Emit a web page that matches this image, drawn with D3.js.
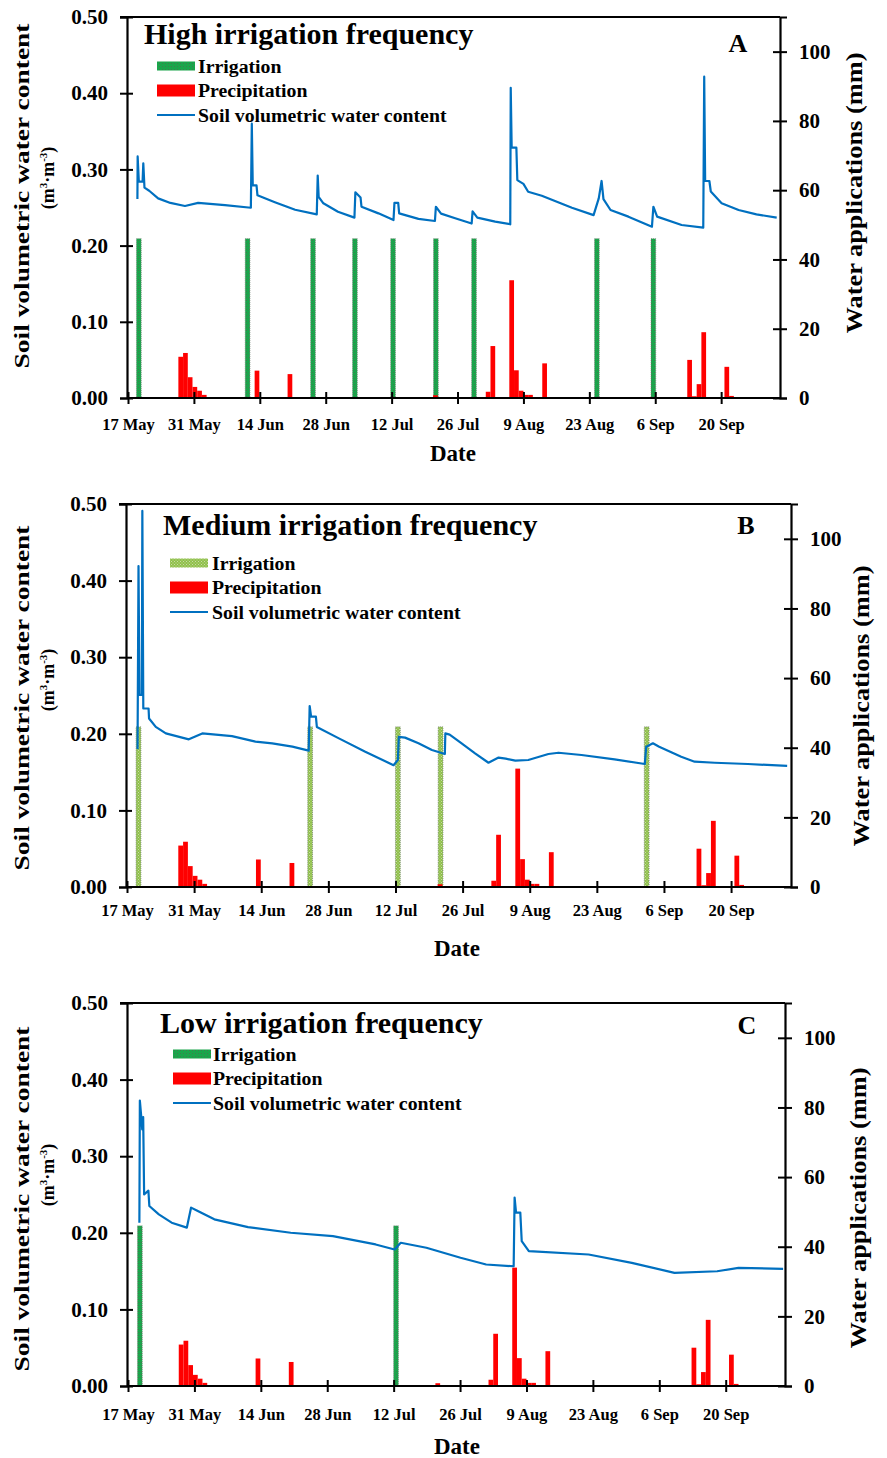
<!DOCTYPE html>
<html><head><meta charset="utf-8">
<script src="https://cdn.jsdelivr.net/npm/d3@7"></script>
<style>
body{margin:0;background:#fff;}
text{font-family:"Liberation Serif","Times New Roman",serif;font-weight:bold;fill:#000;}
</style></head>
<body><svg id="chart" width="887" height="1458"></svg>
<script>
// ---------- data (x = days since 17 May) ----------
const xTickDays = [0,14,28,42,56,70,84,98,112,126];
const xTickLabels = ["17 May","31 May","14 Jun","28 Jun","12 Jul","26 Jul","9 Aug","23 Aug","6 Sep","20 Sep"];
const leftTicks = [0,0.1,0.2,0.3,0.4,0.5];
const rightTicks = [0,20,40,60,80,100];

const precipDays = [10.7,11.7,12.7,13.7,14.7,15.7,26.9,33.9,64.8,76,77,81,82,83,84,85,88,118.8,119.8,120.8,121.8,126.7,127.7];
const precipMm   = [11.9,13,6,3.2,2.1,0.9,7.9,6.9,0.8,1.8,15,34,8,2.1,0.9,0.9,10,11,0.5,4,19,9,0.6];

const irrigationDaysA = [2.3,25.4,39.3,48.2,56.3,65.4,73.5,99.6,111.6];
const irrigationDaysB = [2.4,38.2,56.5,65.4,108.4];
const irrigationDaysC = [2.5,56.5];
const irrigationMm = 46;

const svwcA = [[2.0,0.261],[2.05,0.317],[2.3,0.284],[3.1,0.284],[3.25,0.308],[3.5,0.276],[4.5,0.272],[6.4,0.262],[9,0.256],[12.1,0.252],[14.9,0.256],[20.6,0.253],[26.1,0.2497],[26.3,0.360],[26.5,0.279],[27.3,0.279],[27.5,0.266],[31.2,0.257],[35.5,0.247],[40.1,0.241],[40.3,0.292],[40.5,0.264],[41.5,0.2555],[44.6,0.2445],[48.1,0.2367],[48.3,0.270],[49.4,0.263],[49.6,0.251],[53.2,0.2423],[56.4,0.2336],[56.6,0.256],[57.4,0.256],[57.6,0.2423],[61.7,0.235],[65.2,0.2323],[65.4,0.251],[66.5,0.242],[69.5,0.2358],[73,0.229],[73.2,0.245],[74.2,0.2367],[78,0.2314],[81.2,0.228],[81.3,0.407],[81.5,0.3285],[82.5,0.3285],[82.7,0.286],[84,0.281],[85,0.2707],[87.9,0.2655],[90.7,0.2585],[94.3,0.2497],[98.9,0.240],[100,0.262],[100.6,0.2848],[101,0.261],[102.5,0.2467],[106.3,0.238],[111.3,0.2248],[111.6,0.251],[112.4,0.238],[117.6,0.227],[122.2,0.2235],[122.4,0.4217],[122.6,0.2848],[123.5,0.2848],[123.8,0.271],[126.1,0.2555],[129.7,0.2467],[133.5,0.241],[137.8,0.2367]];

const svwcB = [[2.2,0.180],[2.4,0.419],[2.6,0.2507],[3.1,0.2507],[3.2,0.491],[3.4,0.233],[4.5,0.233],[4.6,0.220],[6,0.209],[8.1,0.2005],[12.9,0.1928],[15.7,0.2005],[21.9,0.197],[26.8,0.1897],[30.3,0.1876],[34.5,0.1832],[37.9,0.178],[38.1,0.2363],[38.4,0.2223],[39.4,0.2223],[39.6,0.209],[44.2,0.194],[49.7,0.1766],[55.6,0.159],[56.5,0.1658],[56.7,0.196],[58,0.195],[60.8,0.1876],[63.6,0.1789],[66.3,0.1736],[66.4,0.2005],[67.3,0.199],[69.8,0.1876],[72.6,0.1745],[75.4,0.1622],[77.5,0.169],[79,0.1675],[81,0.1649],[83.7,0.1658],[87.9,0.1736],[90,0.1753],[94.8,0.1723],[101.7,0.1667],[108,0.1606],[108.3,0.1832],[109.7,0.1876],[111,0.1832],[115.6,0.170],[118.4,0.1636],[122.6,0.1622],[129.5,0.1606],[137.7,0.158]];

const svwcC = [[2.4,0.2132],[2.5,0.3726],[2.8,0.351],[3.0,0.335],[3.2,0.351],[3.4,0.250],[4.3,0.255],[4.5,0.235],[6.5,0.224],[9.2,0.2132],[12.4,0.2067],[13.3,0.2329],[14.5,0.229],[18.2,0.2176],[25.3,0.2075],[34.3,0.2001],[43.2,0.1957],[52.2,0.1848],[56.2,0.1782],[57.5,0.187],[62.9,0.1805],[70.1,0.1674],[75.5,0.1586],[81.3,0.1563],[81.5,0.246],[81.8,0.2263],[82.7,0.2263],[83,0.189],[84.5,0.176],[97.1,0.1717],[106.2,0.1608],[115.2,0.1477],[124.2,0.1498],[128.7,0.1543],[138.1,0.153]];

const panelTitles = ["High irrigation frequency","Medium irrigation frequency","Low irrigation frequency"];
const panelLetters = ["A","B","C"];
const legendLabels = ["Irrigation","Precipitation","Soil volumetric water content"];

// ---------- layout ----------
const panels = [
  {svwc:svwcA, irr:irrigationDaysA, pat:"irrA", left:127, right:780, top:17, bottom:398,
   titleX:144, titleY:44, letterX:738, letterY:52, legX:157, legY:66, legTX:198,
   xlabY:430, dateY:461, ltX:29, ltY:196, lsX:54, lsY:178, rtX:862, rtY:193},
  {svwc:svwcB, irr:irrigationDaysB, pat:"irrB", left:126, right:791, top:504, bottom:887,
   titleX:163, titleY:535, letterX:746, letterY:534, legX:170, legY:563, legTX:212,
   xlabY:916, dateY:956, ltX:29, ltY:698, lsX:54, lsY:680, rtX:869, rtY:706},
  {svwc:svwcC, irr:irrigationDaysC, pat:"irrC", left:127, right:785, top:1003, bottom:1386,
   titleX:160, titleY:1033, letterX:747, letterY:1034, legX:173, legY:1054, legTX:213,
   xlabY:1420, dateY:1454, ltX:29, ltY:1199, lsX:54, lsY:1175, rtX:866, rtY:1208}
];

const svg = d3.select("#chart");
const defs = svg.append("defs");
function mkPat(id, base, dot){
  const p = defs.append("pattern").attr("id",id).attr("width",3).attr("height",3).attr("patternUnits","userSpaceOnUse");
  p.append("rect").attr("width",3).attr("height",3).attr("fill",base);
  p.append("rect").attr("x",0).attr("y",0).attr("width",1).attr("height",1).attr("fill",dot);
  p.append("rect").attr("x",1.5).attr("y",1.5).attr("width",1).attr("height",1).attr("fill",dot);
}
mkPat("irrA","#10b04a","#4d6e50");
mkPat("irrB","#8fc149","#c9d9a8");
mkPat("irrC","#10b04a","#4d6e50");

const lineColor = "#0070c0";

panels.forEach((P,i)=>{
  const g = svg.append("g");
  const x = d3.scaleLinear().domain([0,138.5]).range([P.left+1, P.right]);
  const y = d3.scaleLinear().domain([0,0.5]).range([P.bottom, P.top]);
  const y2 = d3.scaleLinear().domain([0,110]).range([P.bottom, P.top]);
  const dayW = x(1)-x(0);

  const cid = "clip"+i;
  defs.append("clipPath").attr("id",cid).append("rect")
    .attr("x",P.left).attr("y",P.top).attr("width",P.right-P.left).attr("height",P.bottom-P.top);

  const plot = g.append("g").attr("clip-path",`url(#${cid})`);

  plot.selectAll(".irr").data(P.irr).join("rect")
    .attr("x",d=>x(d)-dayW/2).attr("width",dayW)
    .attr("y",y2(irrigationMm)).attr("height",P.bottom-y2(irrigationMm))
    .attr("fill",`url(#${P.pat})`).attr("stroke","#6d7a6d").attr("stroke-width",0.7).attr("stroke-dasharray","1,1");

  plot.selectAll(".pr").data(precipDays.map((d,k)=>[d,precipMm[k]])).join("rect")
    .attr("x",d=>x(d[0])).attr("width",dayW)
    .attr("y",d=>y2(d[1])).attr("height",d=>P.bottom-y2(d[1]))
    .attr("fill","#ff0000");

  plot.append("path").datum(P.svwc)
    .attr("d",d3.line().x(d=>x(d[0])).y(d=>y(d[1])))
    .attr("fill","none").attr("stroke",lineColor).attr("stroke-width",2.2).attr("stroke-linejoin","round");

  g.append("line").attr("x1",P.left-7).attr("x2",P.right).attr("y1",P.top).attr("y2",P.top)
    .attr("stroke","#000").attr("stroke-width",2);

  const ax = g.append("g").attr("transform",`translate(0,${P.bottom})`)
    .call(d3.axisBottom(x).tickValues(xTickDays).tickFormat((d,k)=>xTickLabels[k]).tickSize(6).tickPadding(12));
  ax.select(".domain").attr("d",`M${P.left},0H${P.right}`);
  ax.selectAll(".tick line").attr("y1",-6).attr("y2",6);
  const yl = g.append("g").attr("transform",`translate(${P.left},0)`)
    .call(d3.axisLeft(y).tickValues(leftTicks).tickFormat(d3.format(".2f")).tickSize(7).tickPadding(12));
  yl.selectAll(".tick line").attr("x1",6).attr("x2",-7);
  const yr = g.append("g").attr("transform",`translate(${P.right},0)`)
    .call(d3.axisRight(y2).tickValues(rightTicks).tickSize(7).tickPadding(12));
  yr.selectAll(".tick line").attr("x1",-7).attr("x2",7);
  [ax,yl,yr].forEach(a=>{
    a.select(".domain").attr("stroke","#000").attr("stroke-width",2.2);
    a.selectAll(".tick line").attr("stroke","#000").attr("stroke-width",2);
    a.selectAll(".tick text").attr("font-family","Liberation Serif").attr("font-weight","bold").attr("fill","#000");
  });
  ax.selectAll(".tick text").attr("font-size",16.5).attr("dy",null).attr("y",null)
    .attr("transform",`translate(0,${P.xlabY-P.bottom})`);
  yl.selectAll(".tick text").attr("font-size",21);
  yr.selectAll(".tick text").attr("font-size",21);

  g.append("text").attr("x",P.titleX).attr("y",P.titleY).attr("font-size",30).text(panelTitles[i]);
  g.append("text").attr("x",P.letterX).attr("y",P.letterY).attr("font-size",26).attr("text-anchor","middle").text(panelLetters[i]);

  const lg = g.append("g");
  const rowGap = 24.5;
  lg.append("rect").attr("x",P.legX).attr("y",P.legY-4.5).attr("width",38).attr("height",9).attr("fill",`url(#${P.pat})`);
  lg.append("rect").attr("x",P.legX).attr("y",P.legY+rowGap-6).attr("width",38).attr("height",12).attr("fill","#ff0000");
  lg.append("line").attr("x1",P.legX).attr("x2",P.legX+38).attr("y1",P.legY+2*rowGap).attr("y2",P.legY+2*rowGap)
    .attr("stroke",lineColor).attr("stroke-width",2.2);
  legendLabels.forEach((t,k)=>{
    lg.append("text").attr("x",P.legTX).attr("y",P.legY+k*rowGap+6.5).attr("font-size",19.8).text(t);
  });

  g.append("text").attr("x",453+(i?4:0)).attr("y",P.dateY).attr("text-anchor","middle").attr("font-size",23).text("Date");
  g.append("text").attr("transform",`translate(${P.ltX},${P.ltY}) rotate(-90)`).attr("text-anchor","middle")
    .attr("font-size",22).attr("textLength",345).attr("lengthAdjust","spacingAndGlyphs").text("Soil volumetric water content");
  const sub = g.append("text").attr("transform",`translate(${P.lsX},${P.lsY}) rotate(-90)`).attr("text-anchor","middle").attr("font-size",18);
  sub.append("tspan").text("(m");
  sub.append("tspan").attr("font-size",11).attr("dy",-7).text("3");
  sub.append("tspan").attr("dy",7).text("·m");
  sub.append("tspan").attr("font-size",11).attr("dy",-7).text("-3");
  sub.append("tspan").attr("dy",7).text(")");
  g.append("text").attr("transform",`translate(${P.rtX},${P.rtY}) rotate(-90)`).attr("text-anchor","middle")
    .attr("font-size",23).attr("textLength",281).attr("lengthAdjust","spacingAndGlyphs").text("Water applications (mm)");
});
</script></body></html>
